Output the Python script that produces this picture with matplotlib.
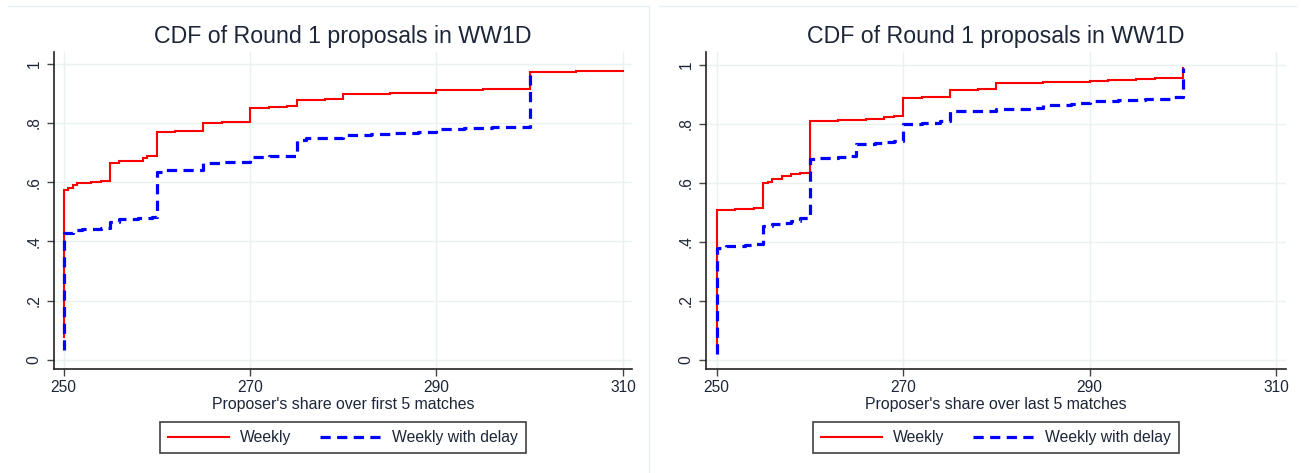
import matplotlib
matplotlib.use("Agg")
import matplotlib.pyplot as plt
from matplotlib.lines import Line2D

plt.rcParams['font.family'] = ['Liberation Sans', 'DejaVu Sans']

# ---------------- data ----------------
title = "CDF of Round 1 proposals in WW1D"
xlabels = ["Proposer's share over first 5 matches", "Proposer's share over last 5 matches"]
series_names = ["Weekly", "Weekly with delay"]
xticks = [250, 270, 290, 310]
yticks = [0, 0.2, 0.4, 0.6, 0.8, 1.0]
ytick_labels = ["0", ".2", ".4", ".6", ".8", "1"]

first_weekly_x = [250, 250, 250.5, 251, 251.5, 252, 253, 254, 255, 256, 257, 258.5, 259, 260, 262,
                  265, 267, 270, 272, 274, 275, 278, 280, 285, 290, 295, 300, 305, 310]
first_weekly_y = [0.078, 0.575, 0.58, 0.592, 0.596, 0.598, 0.6, 0.605, 0.665, 0.67, 0.673, 0.683, 0.687,
                  0.77, 0.773, 0.8, 0.803, 0.85, 0.853, 0.857, 0.878, 0.882, 0.898, 0.9, 0.91, 0.915,
                  0.972, 0.975, 0.975]

first_delay_x = [250, 250, 251, 252, 254, 255, 256, 258, 259.5, 260, 261, 263, 265, 267, 270, 272,
                 275, 276, 278, 280, 283, 285, 288, 290, 293, 296, 299, 300]
first_delay_y = [0.034, 0.43, 0.44, 0.442, 0.445, 0.466, 0.475, 0.478, 0.482, 0.635, 0.64, 0.642,
                 0.665, 0.668, 0.686, 0.688, 0.743, 0.748, 0.75, 0.758, 0.763, 0.765, 0.77, 0.781,
                 0.782, 0.785, 0.787, 0.968]

last_weekly_x = [250, 250, 252, 254, 255, 255.5, 256, 257, 258, 259, 260, 263, 266, 268, 269, 270,
                 272, 275, 278, 280, 285, 290, 292, 295, 297, 299, 300]
last_weekly_y = [0.045, 0.51, 0.512, 0.515, 0.6, 0.605, 0.615, 0.625, 0.63, 0.635, 0.81, 0.812,
                 0.818, 0.822, 0.826, 0.888, 0.89, 0.915, 0.918, 0.94, 0.942, 0.945, 0.948, 0.952,
                 0.955, 0.957, 0.99]

last_delay_x = [250, 250, 251, 253, 254, 255, 256, 257, 258, 259, 260, 261, 263, 264, 265, 267,
                268, 269, 270, 272, 274, 275, 277, 280, 283, 284, 285, 288, 289, 290, 293, 296,
                299, 300]
last_delay_y = [0.02, 0.38, 0.385, 0.39, 0.393, 0.455, 0.46, 0.465, 0.47, 0.483, 0.682, 0.685,
                0.688, 0.69, 0.731, 0.735, 0.74, 0.743, 0.8, 0.805, 0.81, 0.843, 0.845, 0.85,
                0.852, 0.855, 0.865, 0.867, 0.87, 0.879, 0.882, 0.885, 0.89, 0.99]

panels = [
    (xlabels[0], first_weekly_x, first_weekly_y, first_delay_x, first_delay_y),
    (xlabels[1], last_weekly_x, last_weekly_y, last_delay_x, last_delay_y),
]

# ---------------- style ----------------
W, H = 1302, 473
fig = plt.figure(figsize=(W / 100, H / 100), dpi=100)
fig.patch.set_facecolor("white")

grid_c = "#EAF1F2"
text_c = "#1c2638"
red = "#FF0000"
blue = "#0000FF"
frame_c = "#E6EEF0"

# axes boxes in pixels: (left, right, top, bottom), xlim, ylim
boxes = [
    ((54, 632, 52, 369), (248.98, 310.97), (-0.030, 1.039)),
    ((706, 1286, 52, 369), (248.87, 311.07), (-0.0305, 1.044)),
]

# faint panel separators (top edges and the divider between panels)
fig.add_artist(Line2D([8 / W, 649 / W], [1 - 6 / H, 1 - 6 / H], transform=fig.transFigure,
                      color=frame_c, lw=1.0))
fig.add_artist(Line2D([659 / W, 1296 / W], [1 - 6 / H, 1 - 6 / H], transform=fig.transFigure,
                      color=frame_c, lw=1.0))
fig.add_artist(Line2D([649 / W, 649 / W], [0, 1 - 6 / H], transform=fig.transFigure,
                      color=frame_c, lw=1.0))

for (xl, wx, wy, dx, dy), ((l, r, t, b), xlim, ylim) in zip(panels, boxes):
    ax = fig.add_axes([l / W, 1 - b / H, (r - l) / W, (b - t) / H])
    ax.set_xlim(*xlim)
    ax.set_ylim(*ylim)
    ax.set_xticks(xticks)
    ax.set_yticks(yticks)
    ax.set_yticklabels(ytick_labels, rotation=90, va="center")
    ax.grid(True, color=grid_c, lw=1.0)
    ax.set_axisbelow(True)
    for s in ("top", "right"):
        ax.spines[s].set_visible(False)
    for s in ("left", "bottom"):
        ax.spines[s].set_color("#222222")
        ax.spines[s].set_linewidth(1.2)
    ax.tick_params(direction="out", length=5, width=1.0, color="#444444",
                   labelsize=11.2, labelcolor=text_c, pad=3)
    ax.tick_params(axis="y", pad=4)

    ax.plot(wx, wy, drawstyle="steps-post", color=red, lw=1.5, solid_joinstyle="miter")
    ax.plot(dx, dy, drawstyle="steps-post", color=blue, lw=2.3,
            dashes=(3.2, 2.0), dash_capstyle="butt")

    ax.set_title(title, fontsize=16.7, color=text_c, pad=6.3)
    ax.set_xlabel(xl, fontsize=11.4, color=text_c, labelpad=1)

    handles = [Line2D([], [], color=red, lw=1.5),
               Line2D([], [], color=blue, lw=2.3, dashes=(3.2, 2.0))]
    cx = (l + r) / 2 / W
    leg = fig.legend(handles, series_names, loc="center", ncol=2,
                     bbox_to_anchor=(cx, 1 - 437.5 / H), fontsize=11.3,
                     frameon=True, fancybox=False, edgecolor="#111111",
                     handlelength=3.9, handletextpad=0.7, columnspacing=1.8,
                     borderpad=0.5, borderaxespad=0)
    leg.get_frame().set_linewidth(1.2)
    for txt in leg.get_texts():
        txt.set_color(text_c)

fig.savefig("out.png", dpi=100, facecolor="white")
